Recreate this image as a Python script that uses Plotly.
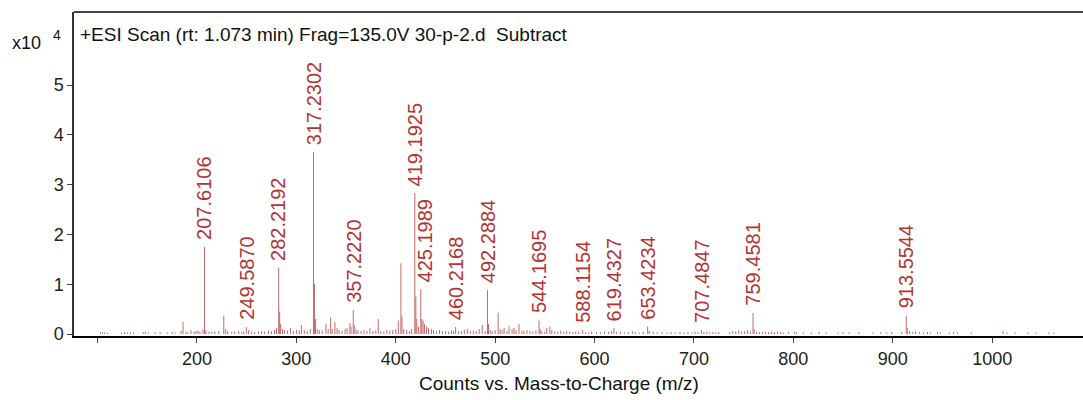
import plotly.graph_objects as go

# Labeled peaks (m/z, intensity in units of 10^4 counts)
label_mz = [207.6106, 249.5870, 282.2192, 317.2302, 357.2220, 419.1925, 425.1989,
            460.2168, 492.2884, 544.1695, 588.1154, 619.4327, 653.4234, 707.4847,
            759.4581, 913.5544]
label_int = [1.75, 0.14, 1.33, 3.65, 0.48, 2.83, 0.90,
             0.14, 0.88, 0.27, 0.08, 0.12, 0.15, 0.08,
             0.42, 0.37]

# Unlabeled peaks
other_mz = [103, 105, 107, 110, 124, 127, 130, 133, 136, 146, 148, 151, 158, 163, 170, 175, 178,
            184, 186, 189, 191, 194, 197, 199, 201, 203, 206, 209, 212, 215, 218, 222, 227, 229,
            231, 235, 238, 242, 245, 247, 252, 255, 258, 262, 265, 268, 272, 275, 278, 280, 283.2,
            284, 286, 288, 291, 294, 297, 300, 303, 305, 308, 311, 314, 318.2, 319.2, 321, 323,
            326, 329.8, 332, 334.5, 336, 338.8, 341, 343, 346, 349, 351, 353.9, 355, 358.2, 360,
            362, 365, 368, 371, 374, 377, 380, 382.4, 385, 388, 391, 394, 397, 400, 402.6, 405.2,
            406.2, 408, 411, 414, 416, 420.2, 421.2, 423, 426.2, 427.5, 429, 431, 433, 436, 438,
            441, 444, 447, 450, 453, 456, 458, 463, 466, 469, 472, 475, 478, 481, 484, 487, 490,
            493.3, 495, 497, 500, 503, 505, 507, 509, 512, 514, 517, 519, 521, 524, 527, 529, 532,
            535, 538, 541, 545.2, 547, 550, 552, 555, 557, 560, 563, 566, 569, 572, 575, 578, 581,
            584, 591, 594, 597, 602, 606, 610, 614, 617, 622, 626, 630, 634, 638, 641, 645, 649,
            655, 659, 663, 668, 673, 677, 681, 686, 690, 694, 698, 701, 704, 710, 713, 716, 719,
            722, 725, 736, 739, 742, 745, 748, 751, 754, 757, 760.5, 763, 766, 769, 772, 775, 778,
            781, 784, 787, 790, 795, 801, 803, 810, 818, 826, 833, 845, 850, 856, 866, 880, 888,
            894, 899, 909, 914.6, 917, 920, 923, 927, 931, 935, 938, 945, 948, 957, 961, 965, 979,
            1011, 1015, 1023, 1036, 1044, 1057, 1062]
other_int = [0.03, 0.04, 0.03, 0.02, 0.03, 0.04, 0.03, 0.04, 0.03, 0.04, 0.05, 0.03, 0.03, 0.04, 0.03, 0.04, 0.03,
             0.06, 0.25, 0.05, 0.04, 0.08, 0.05, 0.06, 0.07, 0.05, 0.10, 0.08, 0.05, 0.04, 0.05, 0.06, 0.37, 0.10,
             0.06, 0.04, 0.05, 0.06, 0.04, 0.05, 0.08, 0.05, 0.04, 0.05, 0.06, 0.05, 0.07, 0.06, 0.08, 0.12, 0.45,
             0.20, 0.10, 0.08, 0.07, 0.12, 0.06, 0.08, 0.07, 0.18, 0.08, 0.06, 0.10, 1.00, 0.30, 0.10, 0.08,
             0.07, 0.20, 0.10, 0.33, 0.10, 0.24, 0.12, 0.08, 0.06, 0.10, 0.12, 0.22, 0.15, 0.18, 0.10,
             0.07, 0.06, 0.08, 0.06, 0.12, 0.06, 0.08, 0.30, 0.06, 0.05, 0.08, 0.06, 0.08, 0.10, 0.27, 1.42,
             0.35, 0.10, 0.08, 0.06, 0.10, 0.75, 0.30, 0.15, 0.30, 0.27, 0.20, 0.15, 0.12, 0.10, 0.08,
             0.06, 0.08, 0.05, 0.06, 0.05, 0.07, 0.06, 0.05, 0.06, 0.08, 0.10, 0.06, 0.07, 0.06, 0.10, 0.18, 0.06,
             0.20, 0.08, 0.06, 0.08, 0.43, 0.10, 0.08, 0.12, 0.06, 0.15, 0.10, 0.12, 0.08, 0.20, 0.07, 0.06, 0.08,
             0.06, 0.05, 0.07, 0.10, 0.06, 0.05, 0.12, 0.15, 0.08, 0.05, 0.05, 0.07, 0.04, 0.06, 0.05, 0.04, 0.05,
             0.04, 0.04, 0.03, 0.05, 0.04, 0.03, 0.05, 0.04, 0.06, 0.04, 0.05, 0.03, 0.04, 0.06, 0.04, 0.03, 0.05,
             0.06, 0.04, 0.03, 0.04, 0.03, 0.04, 0.03, 0.04, 0.03, 0.04, 0.03, 0.05, 0.04, 0.04, 0.05, 0.03, 0.04,
             0.03, 0.04, 0.04, 0.06, 0.05, 0.07, 0.05, 0.06, 0.08, 0.05, 0.10, 0.05, 0.04, 0.05, 0.04, 0.04, 0.05,
             0.04, 0.05, 0.04, 0.03, 0.04, 0.05, 0.03, 0.03, 0.03, 0.04, 0.03, 0.03, 0.04, 0.03, 0.04, 0.03, 0.04,
             0.03, 0.04, 0.04, 0.12, 0.06, 0.04, 0.05, 0.04, 0.03, 0.04, 0.03, 0.04, 0.03, 0.03, 0.04, 0.03, 0.03,
             0.06, 0.03, 0.03, 0.03, 0.03, 0.03, 0.03]

x_tickvals = [100, 200, 300, 400, 500, 600, 700, 800, 900, 1000]
x_ticktext = ["", "200", "300", "400", "500", "600", "700", "800", "900", "1000"]
y_tickvals = [0, 1, 2, 3, 4, 5]

title_text = "+ESI Scan (rt: 1.073 min) Frag=135.0V 30-p-2.d\u00a0\u00a0Subtract"
x_title = "Counts vs. Mass-to-Charge (m/z)"

all_mz = label_mz + other_mz
all_int = label_int + other_int
xs, ys = [], []
for m, h in zip(all_mz, all_int):
    xs += [m, m, None]
    ys += [0, h, None]

STICK = "rgb(200,104,104)"
LABEL = "rgb(178,52,52)"
FONT = "Liberation Sans, Arial, sans-serif"

fig = go.Figure()
fig.add_trace(go.Scatter(x=xs, y=ys, mode="lines", line=dict(color=STICK, width=1),
                         hoverinfo="skip", showlegend=False))

xshift_map = {425.1989: 4}
for m, h in zip(label_mz, label_int):
    fig.add_annotation(x=m, y=h, xref="x", yref="y", text=f"{m:.4f}", textangle=-90,
                       showarrow=False, xanchor="center", yanchor="bottom", yshift=5,
                       xshift=xshift_map.get(m, 0),
                       font=dict(family=FONT, size=20, color=LABEL))

W, H = 1083, 400
L, R, T, B = 74, 0, 12, 64
pw = W - L - R
ph = H - T - B


def px_x(x):
    return (x - L) / pw


def px_y(y):
    return (H - B - y) / ph


fig.add_annotation(x=px_x(78), y=px_y(35), xref="paper", yref="paper",
                   text=title_text, showarrow=False, xanchor="left", yanchor="middle",
                   font=dict(family=FONT, size=19, color="#111"))
fig.add_annotation(x=px_x(559), y=px_y(383), xref="paper", yref="paper",
                   text=x_title, showarrow=False, xanchor="center", yanchor="middle",
                   font=dict(family=FONT, size=19, color="#111"))
fig.add_annotation(x=px_x(26), y=px_y(43), xref="paper", yref="paper",
                   text="x10", showarrow=False, xanchor="center", yanchor="middle",
                   font=dict(family=FONT, size=18, color="#111"))
fig.add_annotation(x=px_x(57), y=px_y(35), xref="paper", yref="paper",
                   text="4", showarrow=False, xanchor="center", yanchor="middle",
                   font=dict(family=FONT, size=14, color="#111"))

fig.update_layout(
    width=W, height=H,
    margin=dict(l=L, r=R, t=T, b=B, pad=0),
    plot_bgcolor="white", paper_bgcolor="white",
    showlegend=False, hovermode=False,
    xaxis=dict(range=[76.3, 1091.4], tickvals=x_tickvals, ticktext=x_ticktext,
               ticks="outside", ticklen=5, tickwidth=1, tickcolor="#444",
               showline=True, linecolor="black", linewidth=2, mirror=False,
               showgrid=False, zeroline=False,
               tickfont=dict(family=FONT, size=18, color="#222")),
    yaxis=dict(range=[-0.04, 6.466], tickvals=y_tickvals,
               ticks="outside", ticklen=5, tickwidth=1, tickcolor="#444",
               showline=True, linecolor="#333", linewidth=1.5,
               showgrid=False, zeroline=False,
               tickfont=dict(family=FONT, size=18, color="#222")),
)
fig.add_shape(type="line", xref="paper", yref="paper", x0=0, x1=1, y0=1, y1=1,
              line=dict(color="#444", width=2))

fig.write_html("out.html")
